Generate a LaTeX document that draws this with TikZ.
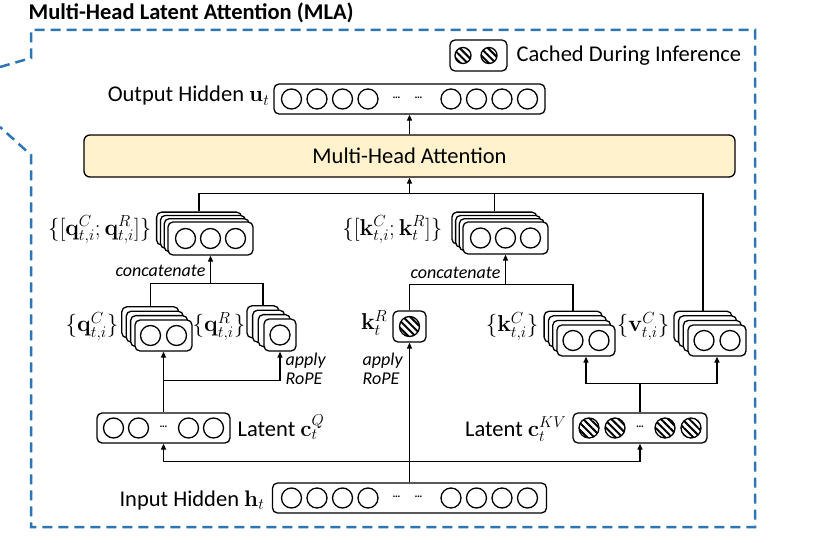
\RequirePackage{fix-cm}
\documentclass[tikz,border=0pt]{standalone}
\usepackage[no-math]{fontspec}
\setmainfont{Carlito}
\usetikzlibrary{arrows.meta,calc,shadows,patterns.meta}

\definecolor{mlablue}{HTML}{2E75B6}
\definecolor{attnfill}{HTML}{FFF2CC}

\tikzset{
  vec/.style={draw, fill=white, rounded corners=5pt, inner sep=0pt},
  stack/.style 2 args={vec,
    general shadow={shadow xshift=-3*#1, shadow yshift=3*#2, draw, fill=white},
    general shadow={shadow xshift=-2*#1, shadow yshift=2*#2, draw, fill=white},
    general shadow={shadow xshift=-#1, shadow yshift=#2, draw, fill=white}},
  unit/.style={circle, draw, minimum size=20pt, inner sep=0pt},
  cached/.style={unit, pattern={Lines[angle=-45, distance=5pt, line width=2pt]}},
  dots/.style={inner sep=0pt, font=\fontsize{11}{11}\selectfont\bfseries},
  lab/.style={inner sep=0pt, font=\fontsize{23}{27}\selectfont},
  note/.style={inner sep=0pt, align=left, font=\fontsize{18}{19}\selectfont\itshape},
  arr/.style={-{Triangle[length=6pt, width=5pt]}},
}

\begin{document}
\begin{tikzpicture}[x=1pt, y=-1pt, line width=1.3pt, font=\fontsize{22.5}{27}\selectfont]
\useasboundingbox (0,0) rectangle (822,543);

% frame and title
\node[anchor=base west, inner sep=0pt] (title) at (28,20) {\bfseries Multi-Head Latent Attention (MLA)};
\draw[mlablue, line width=2.5pt, dash pattern=on 10pt off 6pt]
  (0,67) -- (31,58) -- (31,30) -- (755,30) -- (755,527) -- (31,527) -- (31,155) -- (0,127);

% legend
\node[vec, minimum width=57pt, minimum height=31pt] (legend) at (478.5,55.5) {};
\node[cached, minimum size=16pt] (leg1) at (463,55.5) {};
\node[cached, minimum size=16pt] (leg2) at (489,55.5) {};
\node[anchor=base west, inner sep=0pt] (legtext) at (516,62) {Cached During Inference};

% output hidden
\node[vec, minimum width=271pt, minimum height=30pt] (output) at (409.5,99) {};
\foreach \dx [count=\i] in {-118,-92.5,-67,-41.5,41.5,67,92.5,118}
  \node[unit] (out\i) at ($(output)+(\dx,0)$) {};
\node[dots] (outdots1) at ($(output)+(-13,-1)$) {…};
\node[dots] (outdots2) at ($(output)+(9,-1)$) {…};
\node[anchor=base east, inner sep=0pt] (outlabel) at (270,102) {Output Hidden $\mathbf{u}_t$};

% attention
\node[draw, fill=attnfill, rounded corners=6pt, minimum width=651pt, minimum height=42pt] (mha) at (409.5,156) {Multi-Head Attention};

% concatenated queries and keys
\node[stack={3.8pt}{3.3pt}, minimum width=85pt, minimum height=33pt] (qcat) at (210.5,238.5) {};
\foreach \dx [count=\i] in {-25,0,25}
  \node[unit] (qcat\i) at ($(qcat)+(\dx,0)$) {};
\node[lab, anchor=base east] (qcatlabel) at (152,235) {$\{[\mathbf{q}^C_{t,i};\mathbf{q}^R_{t,i}]\}$};

\node[stack={3.7pt}{3.3pt}, minimum width=85pt, minimum height=32pt] (kcat) at (505.5,238) {};
\foreach \dx [count=\i] in {-25,0,25}
  \node[unit] (kcat\i) at ($(kcat)+(\dx,0)$) {};
\node[lab, anchor=base east] (kcatlabel) at (443,235) {$\{[\mathbf{k}^C_{t,i};\mathbf{k}^R_t]\}$};

\node[note, anchor=base east] (qconcat) at (206,276) {concatenate};
\node[note, anchor=base east] (kconcat) at (501,278) {concatenate};

% per-head parts
\node[stack={4.4pt}{4.4pt}, minimum width=57pt, minimum height=31pt] (qC) at (163.5,335.5) {};
\node[unit] (qC1) at ($(qC)+(-13,0)$) {};
\node[unit] (qC2) at ($(qC)+(13,0)$) {};
\node[lab, anchor=base east] (qClabel) at (119,331.5) {$\{\mathbf{q}^C_{t,i}\}$};

\node[stack={5.7pt}{4.4pt}, minimum width=32pt, minimum height=32pt] (qR) at (280,335) {};
\node[unit] (qR1) at (qR) {};
\node[lab, anchor=base east] (qRlabel) at (246,331.5) {$\{\mathbf{q}^R_{t,i}\}$};

\node[vec, minimum width=33pt, minimum height=31pt] (kR) at (409.5,326.5) {};
\node[cached] (kR1) at (kR) {};
\node[lab, anchor=base east] (kRlabel) at (388,329.5) {$\mathbf{k}^R_t$};

\node[stack={4.3pt}{4.6pt}, minimum width=58pt, minimum height=31pt] (kC) at (586,340.5) {};
\node[unit] (kC1) at ($(kC)+(-13,0)$) {};
\node[unit] (kC2) at ($(kC)+(13,0)$) {};
\node[lab, anchor=base east] (kClabel) at (539,331.5) {$\{\mathbf{k}^C_{t,i}\}$};

\node[stack={4.7pt}{4.6pt}, minimum width=58pt, minimum height=31pt] (v) at (717,340.5) {};
\node[unit] (v1) at ($(v)+(-13,0)$) {};
\node[unit] (v2) at ($(v)+(13,0)$) {};
\node[lab, anchor=base east] (vlabel) at (670,331.5) {$\{\mathbf{v}^C_{t,i}\}$};

\node[note, anchor=north west] (qrope) at (285,352) {apply\\RoPE};
\node[note, anchor=north west] (krope) at (362,352) {apply\\RoPE};

% latents
\node[vec, minimum width=133pt, minimum height=30pt] (cQ) at (163.5,428) {};
\foreach \dx [count=\i] in {-50,-25,25,50}
  \node[unit] (cQ\i) at ($(cQ)+(\dx,0)$) {};
\node[dots] (cQdots) at ($(cQ)+(0,-1)$) {…};
\node[anchor=base west, inner sep=0pt] (cQlabel) at (237,436) {Latent $\mathbf{c}^{Q}_t$};

\node[vec, minimum width=134pt, minimum height=30pt] (cKV) at (640,428) {};
\foreach \dx [count=\i] in {-51,-25,25,51}
  \node[cached] (cKV\i) at ($(cKV)+(\dx,0)$) {};
\node[dots] (cKVdots) at ($(cKV)+(0,-1)$) {…};
\node[anchor=base east, inner sep=0pt] (cKVlabel) at (567,436) {Latent $\mathbf{c}^{KV}_t$};

% input hidden
\node[vec, minimum width=274pt, minimum height=30pt] (input) at (409.5,498) {};
\foreach \dx [count=\i] in {-118,-92.5,-67,-41.5,41.5,67,92.5,118}
  \node[unit] (in\i) at ($(input)+(\dx,0)$) {};
\node[dots] (indots1) at ($(input)+(-13,-1)$) {…};
\node[dots] (indots2) at ($(input)+(9,-1)$) {…};
\node[anchor=base east, inner sep=0pt] (inlabel) at (265,506) {Input Hidden $\mathbf{h}_t$};

% connectors
\coordinate (hj) at ($(input.north)+(0,-21)$);
\draw[arr] (input.north) -- (kR.south);
\draw[arr] (hj) -| (cQ.south);
\draw[arr] (hj) -| (cKV.south);

\coordinate (rj) at ($(cQ.north)+(0,-32)$);
\draw[arr] (cQ.north) -- (qC.south);
\draw[arr] (rj) -| (qR.south);

\coordinate (vj) at ($(cKV.north)+(0,-29)$);
\draw (cKV.north) -- (vj);
\draw[arr] (vj) -| (kC.south);
\draw[arr] (vj) -| (v.south);

\coordinate (qCtop) at ($(qC.north)+(-13.2,-13.2)$);
\coordinate (qRtop) at ($(qR.north)+(-17.1,-13.2)$);
\coordinate (qj) at ($(qcat.south)+(0,28)$);
\draw (qCtop) |- (qj) -| (qRtop);
\draw[arr] (qj) -- (qcat.south);

\coordinate (kCtop) at ($(kC.north)+(-12.9,-13.8)$);
\coordinate (kj) at ($(kcat.south)+(0,30)$);
\draw (kR.north) |- (kj) -| (kCtop);
\draw[arr] (kj) -- (kcat.south);

\coordinate (qcattop) at ($(qcat.north)+(-11.4,-9.9)$);
\coordinate (kcattop) at ($(kcat.north)+(-11.1,-9.9)$);
\coordinate (vtop) at ($(v.north)+(-14.1,-13.8)$);
\coordinate (top) at ($(mha.south)+(0,16)$);
\draw (qcattop) |- (top) -| (vtop);
\draw (kcattop) -- (kcattop |- top);
\draw[arr] (top) -- (mha.south);
\draw[arr] (mha.north) -- (output.south);
\end{tikzpicture}
\end{document}
